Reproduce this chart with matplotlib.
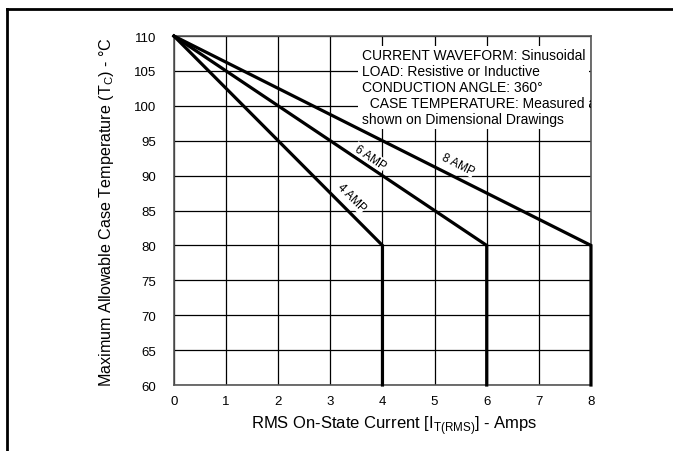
import numpy as np
import matplotlib.pyplot as plt
from matplotlib.lines import Line2D
from matplotlib.patches import Rectangle

plt.rcParams['font.family'] = ['Liberation Sans', 'DejaVu Sans']

# derating curves: current (A) vs max case temperature (C)
amp4_x = [0, 4, 4]
amp4_y = [110, 80, 60]
amp6_x = [0, 6, 6]
amp6_y = [110, 80, 60]
amp8_x = [0, 8, 8]
amp8_y = [110, 80, 60]

x_ticks = [0, 1, 2, 3, 4, 5, 6, 7, 8]
y_ticks = [60, 65, 70, 75, 80, 85, 90, 95, 100, 105, 110]

notes = ['CURRENT WAVEFORM: Sinusoidal',
         'LOAD: Resistive or Inductive',
         'CONDUCTION ANGLE: 360\u00b0',
         '  CASE TEMPERATURE: Measured as',
         'shown on Dimensional Drawings']

fig = plt.figure(figsize=(6.73, 4.52), dpi=100)
ax = fig.add_axes([0.2585, 0.146, 0.6196, 0.772])

ax.set_xlim(0, 8)
ax.set_ylim(60, 110)
ax.set_xticks(x_ticks)
ax.set_yticks(y_ticks)
ax.tick_params(length=0, labelsize=9.5)
ax.tick_params(axis='y', pad=13)
ax.tick_params(axis='x', pad=7)
ax.grid(True, color='black', linewidth=0.9)
ax.set_axisbelow(True)
for s in ax.spines.values():
    s.set_color('#555555')
    s.set_linewidth(1.2)

for xs, ys in [(amp4_x, amp4_y), (amp6_x, amp6_y), (amp8_x, amp8_y)]:
    ax.plot(xs, ys, color='black', linewidth=2.3, solid_joinstyle='miter', clip_on=False, zorder=3)

# white box behind the notes, covering the grid
ax.add_patch(Rectangle((3.53, 96.7), 4.44, 11.9, facecolor='white',
                       edgecolor='none', zorder=2))
y0 = 107.3
for i, line in enumerate(notes):
    ax.text(3.61, y0 - i * 2.28, line, ha='left', va='center', fontsize=10,
            clip_on=True, zorder=4)

ax.text(3.40, 86.9, '4 AMP', rotation=-45, ha='center', va='center',
        fontsize=8.5, zorder=4, rotation_mode='anchor',
        bbox=dict(facecolor='white', edgecolor='none', pad=0.5))
ax.text(3.76, 92.7, '6 AMP', rotation=-33.8, ha='center', va='center',
        fontsize=8.5, zorder=4, rotation_mode='anchor',
        bbox=dict(facecolor='white', edgecolor='none', pad=0.5))
ax.text(5.45, 91.7, '8 AMP', rotation=-26.7, ha='center', va='center',
        fontsize=8.5, zorder=4, rotation_mode='anchor',
        bbox=dict(facecolor='white', edgecolor='none', pad=0.5))

ax.set_xlabel('RMS On-State Current [I$_{\\mathregular{T(RMS)}}$] - Amps',
              fontsize=12)
ax.set_ylabel('Maximum Allowable Case Temperature (T$_{\\mathregular{C}}$) - \u00b0C',
              fontsize=11.6)
ax.xaxis.set_label_coords(0.529, -0.112)
ax.yaxis.set_label_coords(-0.163, 0.5)
ax.xaxis.label.set_va('center')
ax.yaxis.label.set_va('center')

# page frame (left and top edges)
fig.add_artist(Line2D([0.0105, 0.0105], [0.0, 0.978], transform=fig.transFigure,
                      color='black', linewidth=2))
fig.add_artist(Line2D([0.0105, 1.0], [0.978, 0.978], transform=fig.transFigure,
                      color='black', linewidth=2))

fig.savefig('out.png', dpi=100)
